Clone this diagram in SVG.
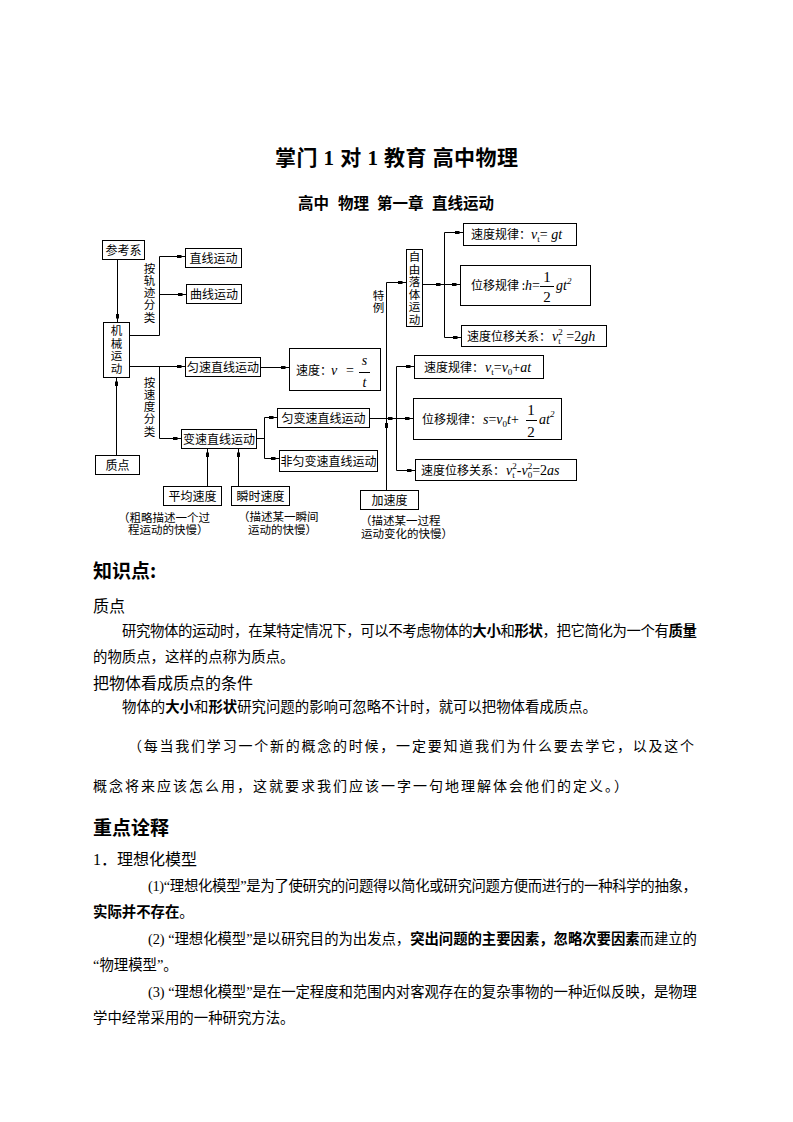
<svg xmlns="http://www.w3.org/2000/svg" width="793" height="1122" viewBox="0 0 793 1122">
<defs>
<style>
.bx{fill:#fff;stroke:#000;stroke-width:1}
.ln{fill:none;stroke:#000;stroke-width:1;marker-end:url(#mk)}
.ln0{fill:none;stroke:#000;stroke-width:1}
.t{font-family:"Noto Sans CJK SC",sans-serif;font-size:12px;fill:#000}
.vt{font-family:"Noto Sans CJK SC",sans-serif;font-size:11.5px;fill:#000;writing-mode:vertical-rl;text-orientation:upright}
.cap{font-family:"Noto Sans CJK SC",sans-serif;font-size:11.5px;fill:#000}
.c{text-anchor:middle}
.m{font-family:"Liberation Serif",serif;font-style:italic;font-size:14px;fill:#000}
.r{font-style:normal}
.sb{font-size:9px;font-style:normal}
.sp{font-size:9px}
.fr{font-family:"Liberation Serif",serif;font-size:15px;fill:#000;text-anchor:middle}
.title{font-family:"Liberation Serif","Noto Sans CJK SC",serif;font-weight:bold;font-size:21px;fill:#000}
.sub{font-family:"Noto Sans CJK SC",sans-serif;font-weight:bold;font-size:15.5px;fill:#000}
.H{font-family:"Noto Sans CJK SC",sans-serif;font-weight:bold;font-size:19px;fill:#000}
.h{font-family:"Liberation Sans","Noto Sans CJK SC",sans-serif;font-size:16px;fill:#000}
.b{font-family:"Liberation Serif","Noto Sans CJK SC",serif;font-size:14.4px;fill:#000}
.k{font-family:"Liberation Serif","Noto Sans CJK SC",serif;font-size:14px;fill:#000}
.bd{font-weight:bold}
</style>
<marker id="mk" markerUnits="userSpaceOnUse" markerWidth="10" markerHeight="4" refX="9.5" refY="2" orient="auto"><rect x="1" y="0.5" width="4.5" height="3" fill="#000"/></marker>
</defs>
<rect width="793" height="1122" fill="#fff"/>

<text class="title" x="275" y="165" textLength="243">掌门 1 对 1 教育  高中物理</text>
<g class="sub">
<text x="298" y="209">高中</text>
<text x="338" y="209">物理</text>
<text x="377" y="209">第一章</text>
<text x="432" y="209">直线运动</text>
</g>

<g id="connectors">
<path class="ln" d="M117.5,259.5 V322.5"/>
<path class="ln" d="M129.5,335.5 H159.5 V256.5 H185.5"/>
<path class="ln" d="M159.5,294.5 H186.5"/>
<path class="ln" d="M129.5,366.5 H185.5"/>
<path class="ln" d="M159.5,366.5 V438.5 H181.5"/>
<path class="ln" d="M116.5,455.5 V377.5"/>
<path class="ln" d="M260.5,367.5 H289.5"/>
<path class="ln" d="M207.5,486.5 V448.5"/>
<path class="ln" d="M238.5,486.5 V448.5"/>
<path class="ln0" d="M256.5,438.5 H264.5 M264.5,417.5 V458.5"/>
<path class="ln" d="M264.5,417.5 H277.5"/>
<path class="ln" d="M264.5,458.5 H279.5"/>
<path class="ln" d="M369.5,418.5 H396.5"/>
<path class="ln" d="M396.5,418.5 H413.5"/>
<path class="ln0" d="M396.5,366.5 V470.5"/>
<path class="ln" d="M396.5,366.5 H414.5"/>
<path class="ln" d="M396.5,470.5 H415.5"/>
<path class="ln" d="M386.5,490.5 V282.5 H406.5"/>
<rect x="385" y="423" width="3" height="5" fill="#000"/>
<path class="ln" d="M422.5,284.5 H444.5"/>
<path class="ln0" d="M444.5,232.5 V337.5"/>
<path class="ln" d="M444.5,232.5 H463.5"/>
<path class="ln" d="M444.5,284.5 H460.5"/>
<path class="ln" d="M444.5,337.5 H461.5"/>
</g>

<text id="lbl-guiji" class="vt" x="149.5" y="262.5" letter-spacing="0.75">按轨迹分类</text>
<text id="lbl-sudu" class="vt" x="149.5" y="376.5" letter-spacing="0.75">按速度分类</text>
<text id="lbl-teli" class="vt" x="378.5" y="289.5" letter-spacing="0.5">特例</text>

<g id="n-cankaoxi"><rect class="bx" x="102.5" y="240.5" width="42" height="19"/><text class="t c" x="123.5" y="254.5">参考系</text></g>
<g id="n-jixie"><rect class="bx" x="103.5" y="322.5" width="26" height="55"/>
<text class="vt" x="116.5" y="325" letter-spacing="1">机械运动</text></g>
<g id="n-zhixian"><rect class="bx" x="185.5" y="248.5" width="56" height="19"/><text class="t c" x="213.5" y="262.5">直线运动</text></g>
<g id="n-quxian"><rect class="bx" x="186.5" y="284.5" width="55" height="19"/><text class="t c" x="214" y="298.5">曲线运动</text></g>
<g id="n-yunsu"><rect class="bx" x="185.5" y="357.5" width="75" height="19"/><text class="t c" x="223" y="371.5">匀速直线运动</text></g>
<g id="n-sudu"><rect class="bx" x="289.5" y="348.5" width="91" height="42"/>
<text class="t" x="296" y="375">速度：</text>
<text class="m" x="331" y="375">v</text><text class="m r" x="346" y="375">=</text>
<text class="m c" x="364.5" y="364.5">s</text><path class="ln0" d="M359,372.5 H370"/><text class="m c" x="364.5" y="387">t</text></g>
<g id="n-biansu"><rect class="bx" x="181.5" y="429.5" width="75" height="19"/><text class="t c" x="219" y="443.5">变速直线运动</text></g>
<g id="n-zhidian"><rect class="bx" x="95.5" y="455.5" width="44" height="19"/><text class="t c" x="117.5" y="469.5">质点</text></g>
<g id="n-pingjun"><rect class="bx" x="163.5" y="486.5" width="58" height="19"/><text class="t c" x="192.5" y="500.5">平均速度</text>
<text class="cap"><tspan x="118" y="521.5">（粗略描述一个过</tspan><tspan x="128" y="534">程运动的快慢）</tspan></text></g>
<g id="n-shunshi"><rect class="bx" x="231.5" y="486.5" width="58" height="19"/><text class="t c" x="260.5" y="500.5">瞬时速度</text>
<text class="cap"><tspan x="238" y="521">（描述某一瞬间</tspan><tspan x="248" y="533.5">运动的快慢）</tspan></text></g>
<g id="n-yunbian"><rect class="bx" x="277.5" y="408.5" width="92" height="19"/><text class="t c" x="323.5" y="422.5">匀变速直线运动</text></g>
<g id="n-feiyunbian"><rect class="bx" x="279.5" y="450.5" width="98" height="21"/><text class="t c" x="328.5" y="465.5">非匀变速直线运动</text></g>
<g id="n-jiasudu"><rect class="bx" x="360.5" y="490.5" width="58" height="19"/><text class="t c" x="389.5" y="504.5">加速度</text>
<text class="cap"><tspan x="360" y="525">（描述某一过程</tspan><tspan x="361" y="537.5">运动变化的快慢）</tspan></text></g>
<g id="n-ziyou"><rect class="bx" x="406.5" y="249.5" width="16" height="77"/>
<text class="vt" x="414.5" y="251" letter-spacing="1">自由落体运动</text></g>

<g id="n-ff1"><rect class="bx" x="463.5" y="223.5" width="113" height="22"/>
<text class="t" x="471" y="239">速度规律：</text>
<text class="m" x="531" y="239">v<tspan class="sb" dy="3">t</tspan><tspan class="r" dy="-3">= </tspan>gt</text></g>
<g id="n-ff2"><rect class="bx" x="460.5" y="265.5" width="130" height="40"/>
<text class="t" x="471" y="290">位移规律 :</text>
<text class="m" x="525" y="290">h<tspan class="r">= </tspan></text>
<text class="fr" x="547" y="281.5">1</text><path class="ln0" d="M540,286.5 H554"/><text class="fr" x="547" y="302">2</text>
<text class="m" x="556" y="290">gt<tspan class="sp" dy="-6">2</tspan></text></g>
<g id="n-ff3"><rect class="bx" x="461.5" y="325.5" width="145" height="21"/>
<text class="t" x="467" y="340.5">速度位移关系：</text>
<text class="m" x="552" y="341">v<tspan class="sb" dy="3">t</tspan><tspan class="sb" dx="-2.5" dy="-9">2</tspan><tspan class="r" dy="6"> =2</tspan>gh</text></g>

<g id="n-u1"><rect class="bx" x="414.5" y="355.5" width="129" height="23"/>
<text class="t" x="424" y="372">速度规律：</text>
<text class="m" x="485" y="372">v<tspan class="sb" dy="3">t</tspan><tspan class="r" dy="-3">=</tspan>v<tspan class="sb" dy="3">0</tspan><tspan class="r" dy="-3">+</tspan>at</text></g>
<g id="n-u2"><rect class="bx" x="413.5" y="398.5" width="148" height="41"/>
<text class="t" x="422" y="424">位移规律：</text>
<text class="m" x="483" y="424">s<tspan class="r">=</tspan>v<tspan class="sb" dy="3">0</tspan><tspan dy="-3">t</tspan><tspan class="r">+</tspan></text>
<text class="fr" x="531" y="415">1</text><path class="ln0" d="M526,420.5 H537"/><text class="fr" x="531" y="436.5">2</text>
<text class="m" x="539" y="424">at<tspan class="sp" dy="-7">2</tspan></text></g>
<g id="n-u3"><rect class="bx" x="415.5" y="459.5" width="161" height="21"/>
<text class="t" x="421" y="475">速度位移关系：</text>
<text class="m" x="506" y="475">v<tspan class="sb" dy="3">t</tspan><tspan class="sb" dx="-2.5" dy="-9">2</tspan><tspan class="r" dy="6">-</tspan>v<tspan class="sb" dy="3">0</tspan><tspan class="sb" dx="-4.5" dy="-9">2</tspan><tspan class="r" dy="6">=2</tspan>as</text></g>

<g id="body">
<text class="H" x="93" y="578">知识点:</text>
<text class="h" x="93" y="612">质点</text>
<text class="b" x="122" y="636" textLength="575" lengthAdjust="spacing">研究物体的运动时，在某特定情况下，可以不考虑物体的<tspan class="bd">大小</tspan>和<tspan class="bd">形状</tspan>，把它简化为一个有<tspan class="bd">质量</tspan></text>
<text class="b" x="93" y="662">的物质点，这样的点称为质点。</text>
<text class="h" x="93" y="689">把物体看成质点的条件</text>
<text class="b" x="122" y="712">物体的<tspan class="bd">大小</tspan>和<tspan class="bd">形状</tspan>研究问题的影响可忽略不计时，就可以把物体看成质点。</text>
<text class="k" x="128" y="750.5" textLength="566" lengthAdjust="spacing">（每当我们学习一个新的概念的时候，一定要知道我们为什么要去学它，以及这个</text>
<text class="k" x="93" y="790.5" textLength="535" lengthAdjust="spacing">概念将来应该怎么用，这就要求我们应该一字一句地理解体会他们的定义。）</text>
<text class="H" x="93" y="835">重点诠释</text>
<text class="h" x="93" y="865"><tspan font-family="Liberation Serif">1</tspan>．理想化模型</text>
<text class="b" x="148" y="891" textLength="549" lengthAdjust="spacing">(1)“理想化模型”是为了使研究的问题得以简化或研究问题方便而进行的一种科学的抽象，</text>
<text class="b" x="93" y="917"><tspan class="bd">实际并不存在</tspan>。</text>
<text class="b" x="148" y="944" textLength="549" lengthAdjust="spacing">(2) “理想化模型”是以研究目的为出发点，<tspan class="bd">突出问题的主要因素，忽略次要因素</tspan>而建立的</text>
<text class="b" x="93" y="970">“物理模型”。</text>
<text class="b" x="148" y="997" textLength="549" lengthAdjust="spacing">(3) “理想化模型”是在一定程度和范围内对客观存在的复杂事物的一种近似反映，是物理</text>
<text class="b" x="93" y="1023">学中经常采用的一种研究方法。</text>
</g>
</svg>
